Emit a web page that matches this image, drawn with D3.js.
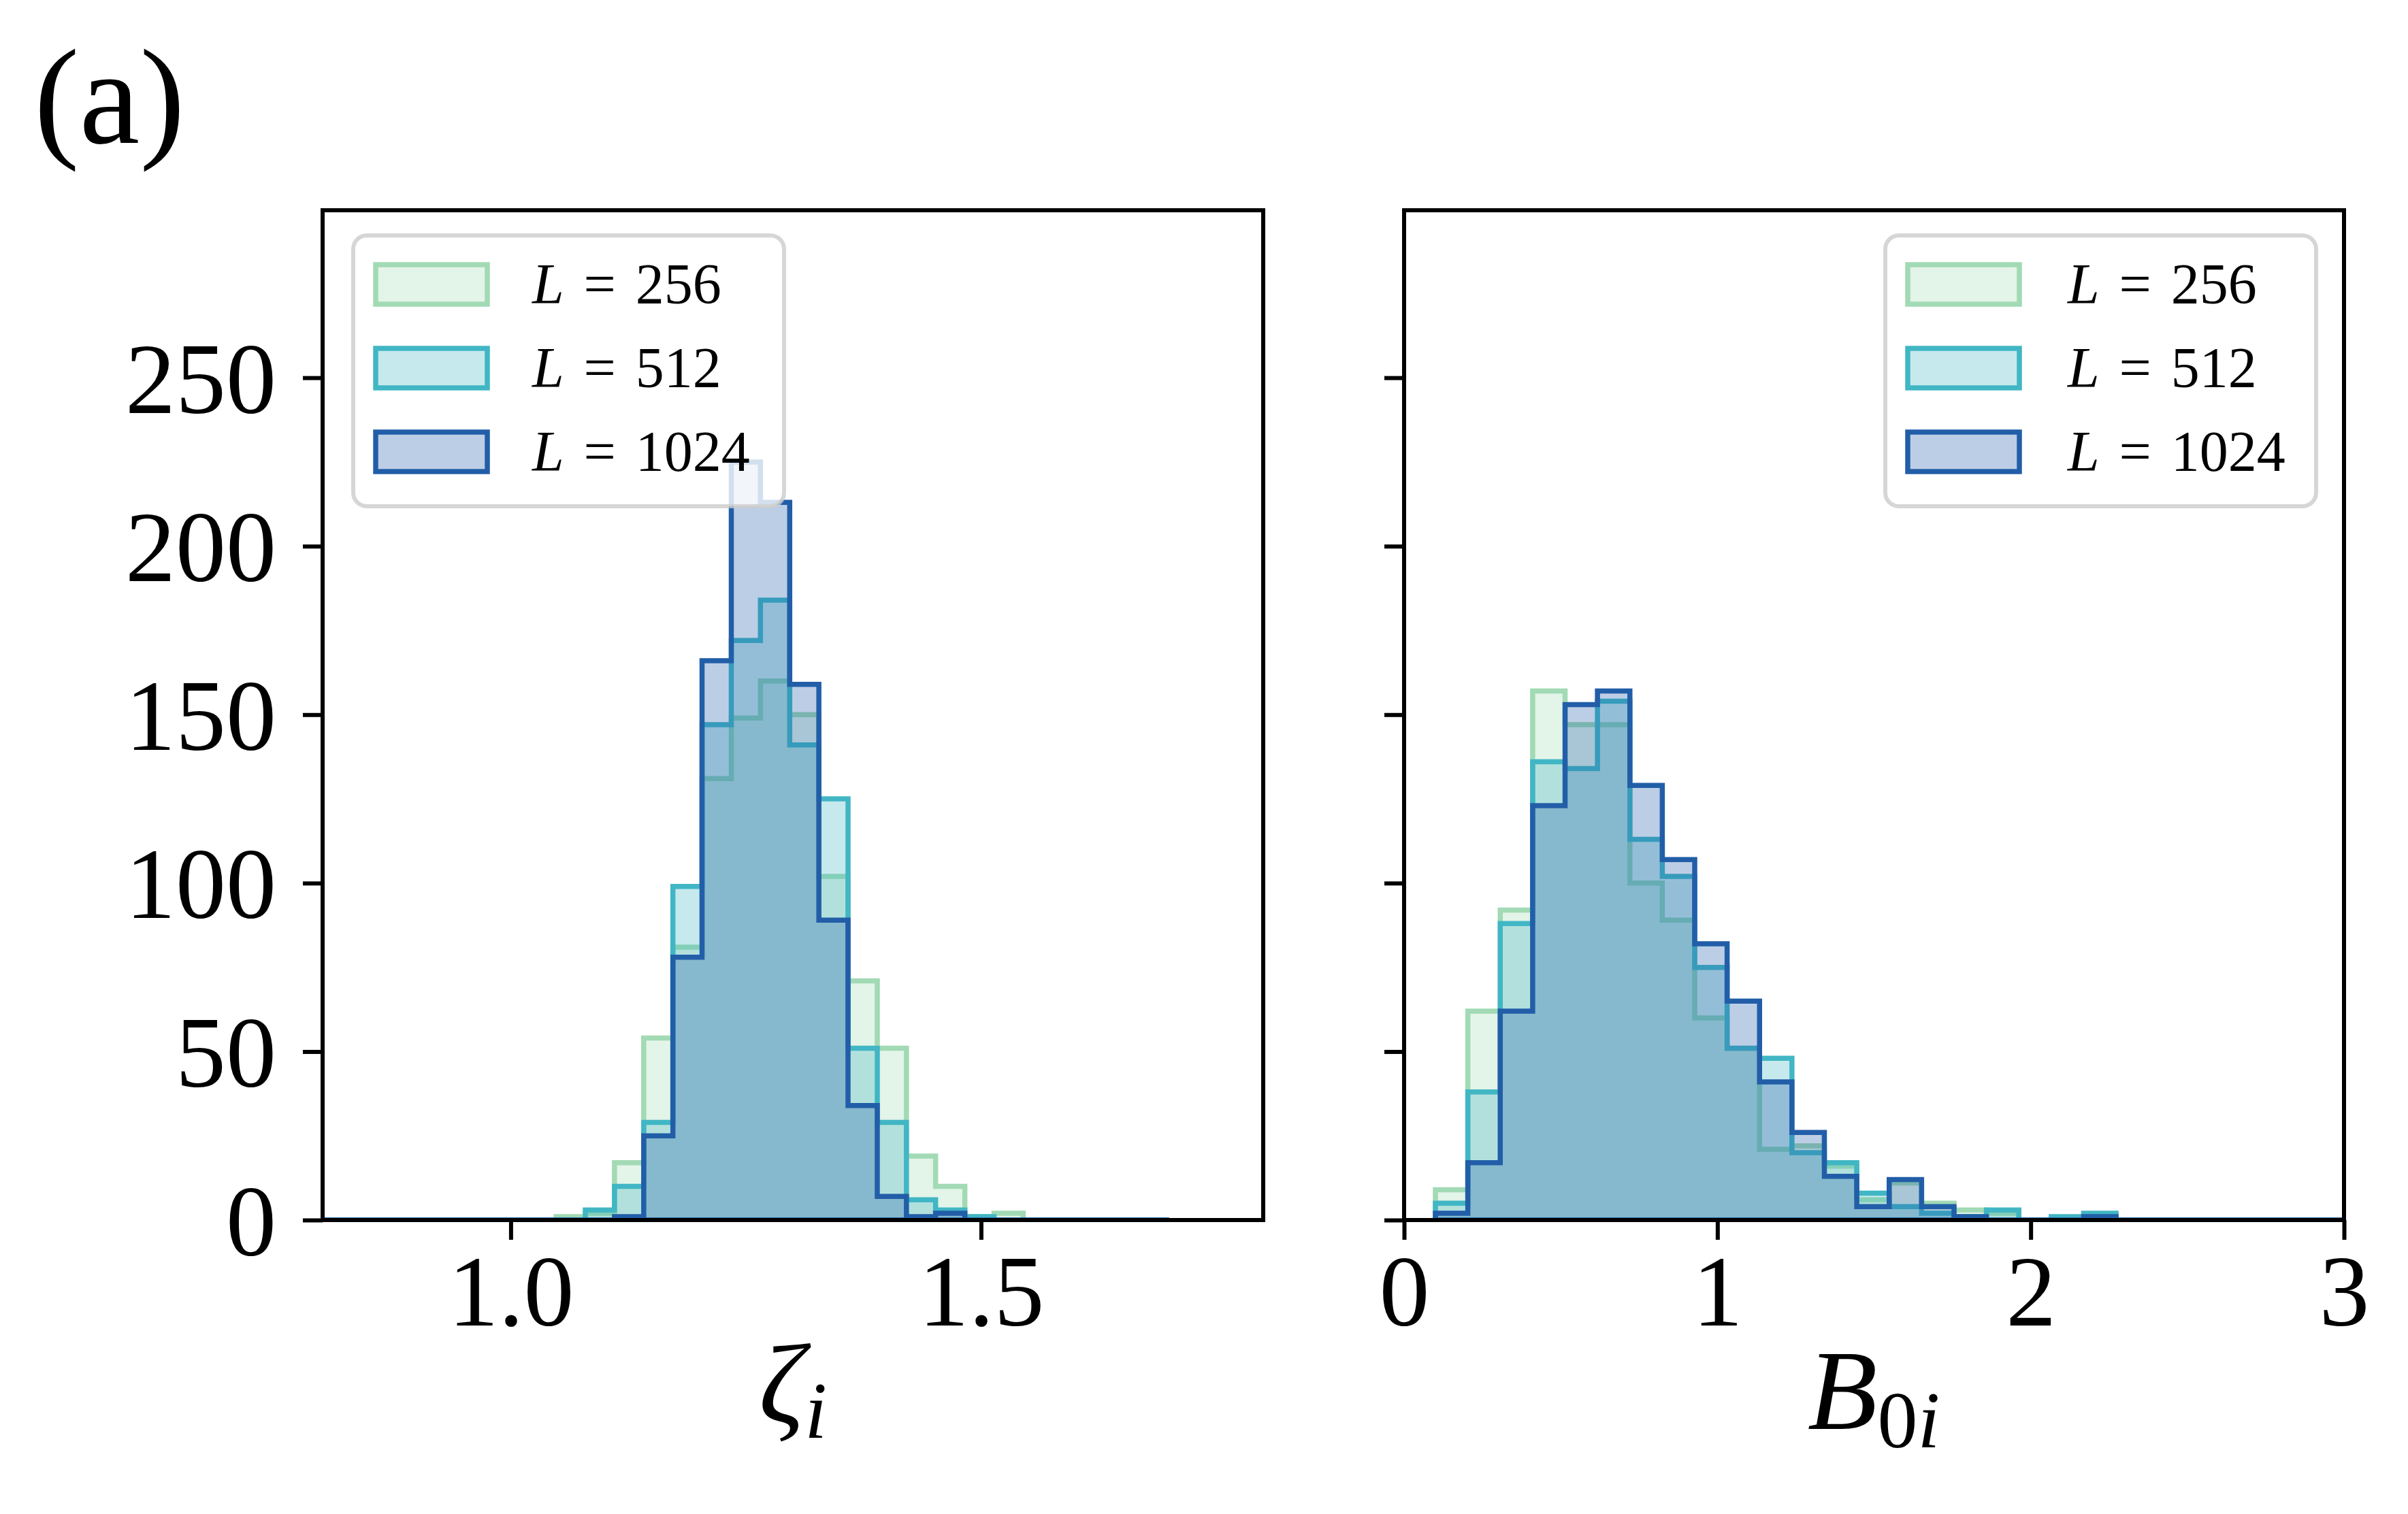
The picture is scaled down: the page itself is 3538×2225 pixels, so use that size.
<!DOCTYPE html>
<html>
<head>
<meta charset="utf-8">
<script src="https://cdn.jsdelivr.net/npm/d3@7/dist/d3.min.js"></script>
<style>
body { margin: 0; background: #fff; }
</style>
</head>
<body>
<script>
var width = 3538;
var height = 2225;

// series names and colours (YlGnBu)
var sizes = ["256", "512", "1024"];
var colors = ["#a1dab4", "#41b6c4", "#225ea8"];

// zeta_i bin edges (29 bins)
var zetaEdges = [0.8, 0.8310, 0.8621, 0.8931, 0.9241, 0.9552, 0.9862, 1.0172, 1.0483, 1.0793,
  1.1103, 1.1414, 1.1724, 1.2034, 1.2345, 1.2655, 1.2966, 1.3276, 1.3586, 1.3897,
  1.4207, 1.4517, 1.4828, 1.5138, 1.5448, 1.5759, 1.6069, 1.6379, 1.6690, 1.7];
var zeta256  = [0,0,0,0,0,0,0,0,1,2,17,54,81,131,149,160,150,102,71,51,19,10,1,2,0,0,0,0,0];
var zeta512  = [0,0,0,0,0,0,0,0,0,3,10,29,99,147,172,184,141,125,51,29,6,3,1,0,0,0,0,0,0];
var zeta1024 = [0,0,0,0,0,0,0,0,0,0,1,25,78,166,225,213,159,89,34,7,1,2,0,0,0,0,0,0,0];

// B_0i bin edges (29 bins)
var bEdges = [0.1, 0.2034, 0.3069, 0.4103, 0.5138, 0.6172, 0.7207, 0.8241, 0.9276, 1.0310,
  1.1345, 1.2379, 1.3414, 1.4448, 1.5483, 1.6517, 1.7552, 1.8586, 1.9621, 2.0655,
  2.1690, 2.2724, 2.3759, 2.4793, 2.5828, 2.6862, 2.7897, 2.8931, 2.9966, 3.1];
var b256  = [9,62,92,157,147,147,100,89,60,51,21,22,16,6,11,5,3,2,0,0,0,0,0,0,0,0,0,0,0];
var b512  = [5,38,88,136,134,154,113,102,75,51,48,20,17,8,4,2,1,3,0,1,2,0,0,0,0,0,0,0,0];
var b1024 = [2,17,62,123,153,157,129,107,82,65,41,26,13,4,12,4,1,0,0,0,1,0,0,0,0,0,0,0,0];

// tick values
var yTicks = [0, 50, 100, 150, 200, 250];
var zetaTicks = [1.0, 1.5];
var bTicks = [0, 1, 2, 3];

var font = "'Liberation Serif', 'Times New Roman', serif";
var plotTop = 309, plotBottom = 1793;

var svg = d3.select("body")
  .append("svg")
  .attr("width", width)
  .attr("height", height)
  .style("background", "#fff");

var yScale = d3.scaleLinear()
  .domain([0, 299.7])
  .range([plotBottom, plotTop]);

var panels = [
  {id: "zeta", left: 474, right: 1856, domain: [0.8, 1.8], edges: zetaEdges,
   series: [zeta256, zeta512, zeta1024], ticks: zetaTicks, fmt: d3.format(".1f"),
   yLabels: true, legendX: 519, textOff: 263},
  {id: "b", left: 2063, right: 3444, domain: [0, 3], edges: bEdges,
   series: [b256, b512, b1024], ticks: bTicks, fmt: d3.format("d"),
   yLabels: false, legendX: 2770, textOff: 268}
];

function stepPoints(edges, counts) {
  var pts = [[edges[0], 0]];
  counts.forEach(function(c, i) {
    pts.push([edges[i], c]);
    pts.push([edges[i + 1], c]);
  });
  pts.push([edges[edges.length - 1], 0]);
  return pts;
}

panels.forEach(function(p) {
  var xScale = d3.scaleLinear()
    .domain(p.domain)
    .range([p.left, p.right]);

  svg.append("clipPath")
    .attr("id", "clip-" + p.id)
    .append("rect")
    .attr("x", p.left)
    .attr("y", plotTop)
    .attr("width", p.right - p.left)
    .attr("height", plotBottom - plotTop);

  var line = d3.line()
    .x(function(d) { return xScale(d[0]); })
    .y(function(d) { return yScale(d[1]); });

  var g = svg.append("g").attr("clip-path", "url(#clip-" + p.id + ")");
  g.selectAll("path")
    .data(p.series)
    .enter()
    .append("path")
    .attr("d", function(d) { return line(stepPoints(p.edges, d)) + "Z"; })
    .attr("fill", function(d, i) { return colors[i]; })
    .attr("fill-opacity", 0.3)
    .attr("stroke", function(d, i) { return colors[i]; })
    .attr("stroke-width", 7.5)
    .attr("stroke-linejoin", "miter");

  // x axis
  var xAxis = svg.append("g")
    .attr("transform", "translate(0," + plotBottom + ")")
    .call(d3.axisBottom(xScale).tickValues(p.ticks).tickFormat(p.fmt).tickSize(29).tickPadding(20));
  xAxis.select(".domain").remove();
  xAxis.selectAll(".tick line").attr("stroke", "#000").attr("stroke-width", 6);
  xAxis.selectAll(".tick text")
    .attr("font-family", font)
    .attr("font-size", 148)
    .attr("fill", "#000")
    .attr("y", 155)
    .attr("dy", 0);

  // y axis
  var yAxis = svg.append("g")
    .attr("transform", "translate(" + p.left + ",0)")
    .call(d3.axisLeft(yScale).tickValues(yTicks).tickSize(29).tickPadding(39)
      .tickFormat(p.yLabels ? d3.format("d") : function() { return ""; }));
  yAxis.select(".domain").remove();
  yAxis.selectAll(".tick line").attr("stroke", "#000").attr("stroke-width", 6);
  yAxis.selectAll(".tick text")
    .attr("font-family", font)
    .attr("font-size", 148)
    .attr("fill", "#000")
    .attr("dy", "0.345em");

  // frame
  svg.append("rect")
    .attr("x", p.left)
    .attr("y", plotTop)
    .attr("width", p.right - p.left)
    .attr("height", plotBottom - plotTop)
    .attr("fill", "none")
    .attr("stroke", "#000")
    .attr("stroke-width", 6);

  // legend
  var lg = svg.append("g").attr("transform", "translate(" + p.legendX + ",346)");
  lg.append("rect")
    .attr("x", 0)
    .attr("y", 0)
    .attr("width", 633)
    .attr("height", 398)
    .attr("rx", 20)
    .attr("fill", "#fff")
    .attr("fill-opacity", 0.8)
    .attr("stroke", "#cccccc")
    .attr("stroke-opacity", 0.8)
    .attr("stroke-width", 6);

  var rows = lg.selectAll("g.row")
    .data(sizes)
    .enter()
    .append("g")
    .attr("class", "row")
    .attr("transform", function(d, i) { return "translate(0," + (72 + i * 123) + ")"; });

  rows.append("rect")
    .attr("x", 33)
    .attr("y", -29)
    .attr("width", 164)
    .attr("height", 58)
    .attr("fill", function(d, i) { return colors[i]; })
    .attr("fill-opacity", 0.3)
    .attr("stroke", function(d, i) { return colors[i]; })
    .attr("stroke-width", 7.5);

  var t = rows.append("text")
    .attr("x", p.textOff)
    .attr("y", 28)
    .attr("font-family", font)
    .attr("font-size", 84)
    .attr("fill", "#000");
  t.append("tspan").attr("font-style", "italic").text("L");
  t.append("tspan").attr("dx", 12).text("\u2009=\u2009");
  t.append("tspan").attr("dx", 12).text(function(d) { return d; });
});

// axis labels
var zl = svg.append("text")
  .attr("x", 1165)
  .attr("y", 2090)
  .attr("text-anchor", "middle")
  .attr("font-family", font)
  .attr("font-size", 166)
  .attr("fill", "#000");
zl.append("tspan").attr("font-style", "italic").text("\u03b6");
zl.append("tspan").attr("font-style", "italic").attr("font-size", 118).attr("dy", 23).text("i");

var bl = svg.append("text")
  .attr("x", 2753)
  .attr("y", 2100)
  .attr("text-anchor", "middle")
  .attr("font-family", font)
  .attr("font-size", 168)
  .attr("fill", "#000");
bl.append("tspan").attr("font-style", "italic").text("B");
bl.append("tspan").attr("font-size", 118).attr("dy", 27).text("0");
bl.append("tspan").attr("font-style", "italic").attr("font-size", 118).text("i");

// panel tag
svg.append("text")
  .attr("x", 50)
  .attr("y", 210)
  .attr("font-family", font)
  .attr("font-size", 200)
  .attr("fill", "#000")
  .text("(a)");
</script>
</body>
</html>
